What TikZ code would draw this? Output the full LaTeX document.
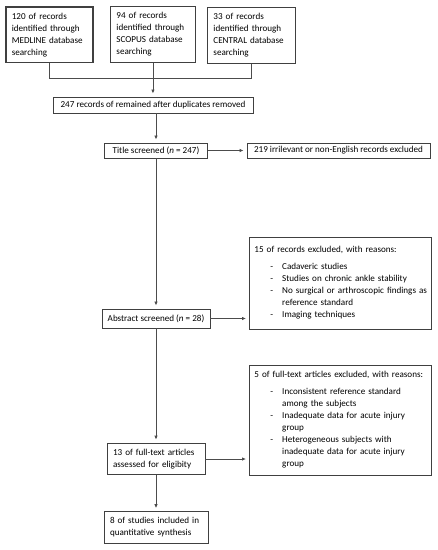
\documentclass[tikz,border=0pt]{standalone}
\usepackage{fontspec}
\setmainfont{Carlito}
\usetikzlibrary{arrows.meta}

\begin{document}
\begin{tikzpicture}[x = 1pt, y = -1pt,
	 box/.style = {draw = black!75, line width = 0.9pt, inner sep = 6pt, align = left, font = \fontsize{9.1}{12}\selectfont},
	 link/.style = {draw = black!70, line width = 0.8pt},
	 flow/.style = {link, -{Latex[length = 4pt, width = 3.5pt]}, shorten > = 3pt}]
	 \useasboundingbox[fill = white] (0, 0) rectangle (438, 550);

	 \node[box, line width = 1.6pt, text width = 75pt, minimum height = 54pt, anchor = north west] (medline) at (5, 6) {120 of records\\identified through\\MEDLINE database\\searching};
	 \node[box, text width = 73pt, minimum height = 54pt, anchor = north west] (scopus) at (110, 6) {94 of records\\identified through\\SCOPUS database\\searching};
	 \node[box, text width = 76pt, minimum height = 53pt, anchor = north west] (central) at (207, 7) {33 of records\\identified through\\CENTRAL database\\searching};

	 \node[box, inner sep = 3pt, minimum width = 200pt, minimum height = 16pt] (dup) at (153, 105) {247 records of remained after duplicates removed};
	 \node[box, inner sep = 3pt, minimum width = 103pt, minimum height = 15pt] (title) at (156, 150.5) {Title screened (\textit{n} = 247)};
	 \node[box, inner sep = 3pt, minimum width = 183pt, minimum height = 15pt] (irr) at (338.5, 150.5) {219 irrilevant or non-English records excluded};
	 \node[box, inner sep = 3pt, minimum width = 108pt, minimum height = 19pt] (abstract) at (156, 318.5) {Abstract screened (\textit{n} = 28)};
	 \node[box, text width = 172pt, inner xsep = 5pt, minimum height = 92pt, anchor = north west] (reasons1) at (249, 237) {15 of records excluded, with reasons:\\[6pt]
		 \begin{tabular}{@{\hspace{16pt}}l@{\hspace{9pt}}l@{}}
		 - & Cadaveric studies\\
		 - & Studies on chronic ankle stability\\
		 - & No surgical or arthroscopic findings as\\
		 & reference standard\\
		 - & Imaging techniques
		 \end{tabular}};
	 \node[box, text width = 86pt, minimum height = 30pt] (fulltext) at (156, 459) {13 of full-text articles\\assessed for eligibity};
	 \node[box, text width = 172pt, inner xsep = 5pt, minimum height = 109pt, anchor = north west] (reasons2) at (249, 365) {5 of full-text articles excluded, with reasons:\\[6pt]
		 \begin{tabular}{@{\hspace{16pt}}l@{\hspace{9pt}}l@{}}
		 - & Inconsistent reference standard\\
		 & among the subjects\\
		 - & Inadequate data for acute injury\\
		 & group\\
		 - & Heterogeneous subjects with\\
		 & inadequate data for acute injury\\
		 & group
		 \end{tabular}};
	 \node[box, text width = 92pt, minimum height = 29pt] (included) at (156, 527.5) {8 of studies included in\\quantitative synthesis};

	 % merging the three searches
	 \coordinate (level) at (0, 78);
	 \draw[link] (medline.south) -- (medline.south |- level) -- (central.south |- level) -- (central.south);
	 \draw[flow] (scopus.south) -- (scopus.south |- dup.north);
	 \draw[flow] (dup.south -| title.north) -- (title.north);
	 \draw[flow] (title.east) -- (irr.west);
	 \draw[flow] (title.south) -- (abstract.north);
	 \draw[flow] (abstract.east) -- (abstract.east -| reasons1.west);
	 \draw[flow] (abstract.south) -- (fulltext.north);
	 \draw[flow] (fulltext.east) -- (fulltext.east -| reasons2.west);
	 \draw[flow] (fulltext.south) -- (included.north);
\end{tikzpicture}
\end{document}
